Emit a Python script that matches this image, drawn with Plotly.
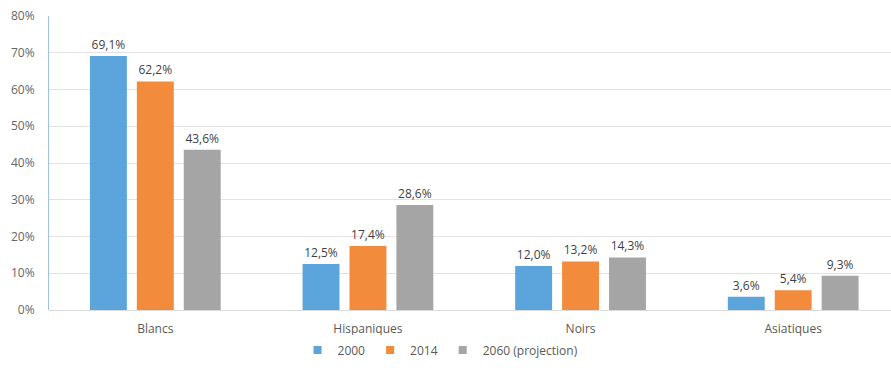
import plotly.graph_objects as go

categories = ["Blancs", "Hispaniques", "Noirs", "Asiatiques"]
series_names = ["2000", "2014", "2060 (projection)"]
v2000 = [69.1, 12.5, 12.0, 3.6]
v2014 = [62.2, 17.4, 13.2, 5.4]
v2060 = [43.6, 28.6, 14.3, 9.3]
colors = ["#5BA4DC", "#F28C3C", "#A5A5A5"]
tick_vals = [0, 10, 20, 30, 40, 50, 60, 70, 80]
tick_text = [f"{v}%" for v in tick_vals]

fig = go.Figure()
for name, vals, col in zip(series_names, [v2000, v2014, v2060], colors):
    fig.add_trace(go.Bar(
        x=categories, y=vals, name=name, marker_color=col,
        marker_line_width=0, showlegend=False,
        texttemplate="%{y:.1f}%", textposition="outside",
        textfont=dict(family="Open Sans", size=12, color="#3F3F3F"),
        cliponaxis=False,
    ))
# legend entries with small square symbols
for name, col in zip(series_names, colors):
    fig.add_trace(go.Scatter(
        x=[None], y=[None], mode="markers", name=name,
        marker=dict(symbol="square", size=8, color=col),
    ))

fig.update_layout(
    width=891, height=371,
    margin=dict(l=49, r=0, t=16, b=61),
    paper_bgcolor="white", plot_bgcolor="white",
    separators=",.",
    barmode="group", bargap=0.338, bargroupgap=0.213,
    font=dict(family="Open Sans", size=12, color="#595959"),
    legend=dict(orientation="h", x=0.465, xanchor="center", y=-0.136, yanchor="middle",
                font=dict(size=12, color="#595959"), itemwidth=30, traceorder="normal"),
    xaxis=dict(range=[-0.5, 3.46], showgrid=False, showline=False, ticks="",
               ticklabelstandoff=10,
               tickfont=dict(size=12, color="#595959")),
    yaxis=dict(range=[0, 80], tickvals=tick_vals, ticktext=tick_text,
               showgrid=True, gridcolor="#E6E1E1", gridwidth=1,
               zeroline=True, zerolinecolor="#DADADA", zerolinewidth=1,
               showline=True, linecolor="#9DC3E6", linewidth=1,
               ticks="", ticklabelstandoff=11,
               tickfont=dict(size=12, color="#666666")),
)

fig.write_html("out.html")
